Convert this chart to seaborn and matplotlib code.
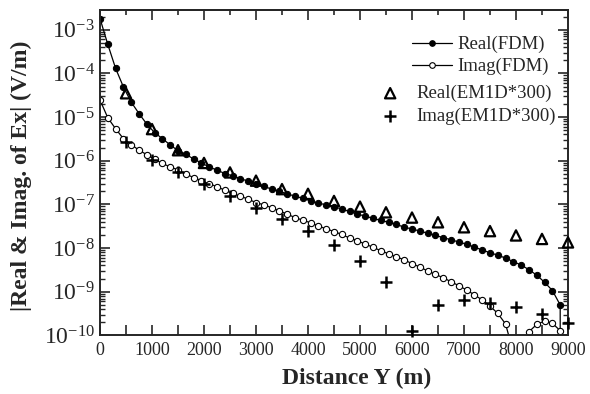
import numpy as np
import matplotlib
matplotlib.use("Agg")
import matplotlib.pyplot as plt
import seaborn as sns
from matplotlib.ticker import LogLocator, MultipleLocator, NullFormatter

# ------------------------------
# data
# ------------------------------
x_fdm = np.arange(0, 9001, 150)

real_fdm = [1.8e-3, 4.6e-4, 1.3e-4, 4.9e-5, 2.2e-5, 1.2e-5, 6.9e-6, 4.4e-6,
            3.2e-6, 2.3e-6, 1.7e-6, 1.4e-6, 1.1e-6, 8.9e-7, 7.2e-7, 6.1e-7,
            5.1e-7, 4.5e-7, 3.9e-7, 3.4e-7, 3.0e-7, 2.6e-7, 2.24e-7, 2.0e-7,
            1.75e-7, 1.54e-7, 1.38e-7, 1.2e-7, 1.07e-7, 9.8e-8, 8.9e-8, 7.8e-8,
            6.9e-8, 6.0e-8, 5.4e-8, 4.8e-8, 4.3e-8, 3.9e-8, 3.5e-8, 3.0e-8,
            2.75e-8, 2.45e-8, 2.2e-8, 1.95e-8, 1.74e-8, 1.55e-8, 1.38e-8, 1.23e-8,
            1.05e-8, 9.1e-9, 7.8e-9, 6.9e-9, 5.9e-9, 4.9e-9, 4.1e-9, 3.2e-9,
            2.4e-9, 1.65e-9, 1.07e-9, 5.0e-10, 0.0]

imag_fdm = [2.45e-5, 9.6e-6, 5.4e-6, 3.2e-6, 2.35e-6, 1.74e-6, 1.38e-6, 1.07e-6,
            8.7e-7, 7.2e-7, 6.2e-7, 5.0e-7, 4.1e-7, 3.5e-7, 2.95e-7, 2.57e-7,
            2.1e-7, 1.78e-7, 1.54e-7, 1.32e-7, 1.1e-7, 9.8e-8, 8.4e-8, 7.1e-8,
            6.0e-8, 5.0e-8, 4.35e-8, 3.8e-8, 3.2e-8, 2.76e-8, 2.4e-8, 2.05e-8,
            1.7e-8, 1.48e-8, 1.23e-8, 1.05e-8, 8.7e-9, 7.4e-9, 6.3e-9, 5.4e-9,
            4.4e-9, 3.7e-9, 3.0e-9, 2.5e-9, 2.1e-9, 1.7e-9, 1.38e-9, 1.1e-9,
            8.5e-10, 6.5e-10, 4.7e-10, 3.2e-10, 1.83e-10, 4e-11, 3e-11, 1.22e-10,
            1.8e-10, 2.15e-10, 1.9e-10, 1.29e-10, 0.0]

x_em1d = np.arange(500, 9001, 500)
real_em1d = [3.5e-5, 5.3e-6, 1.74e-6, 8.9e-7, 5.4e-7, 3.5e-7, 2.24e-7, 1.75e-7,
             1.2e-7, 8.9e-8, 6.6e-8, 5.0e-8, 3.9e-8, 3.0e-8, 2.45e-8, 1.95e-8,
             1.62e-8, 1.35e-8]
imag_em1d = [2.7e-6, 1.05e-6, 5.4e-7, 3.0e-7, 1.6e-7, 8.5e-8, 4.7e-8, 2.5e-8,
             1.2e-8, 5.1e-9, 1.7e-9, 1.29e-10, 5.0e-10, 6.5e-10, 5.6e-10, 4.4e-10,
             3.1e-10, 1.96e-10]

# ------------------------------
# style
# ------------------------------
sns.set_style("ticks")
plt.rcParams["font.family"] = ["Liberation Serif", "DejaVu Serif"]
plt.rcParams["mathtext.fontset"] = "custom"
plt.rcParams["mathtext.rm"] = "Liberation Serif"
plt.rcParams["axes.linewidth"] = 1.4

fig = plt.figure(figsize=(5.9, 3.94), dpi=100)
ax = fig.add_axes([0.1695, 0.1485, 0.7932, 0.8261])
ax.set_yscale("log")

sns.lineplot(x=x_fdm, y=real_fdm, ax=ax, color="black", lw=0.9,
             marker="o", markersize=4.5, markerfacecolor="black",
             markeredgecolor="black", label="Real(FDM)")
sns.lineplot(x=x_fdm, y=imag_fdm, ax=ax, color="black", lw=0.9,
             marker="o", markersize=4.5, markerfacecolor="white",
             markeredgecolor="black", markeredgewidth=0.8, label="Imag(FDM)")
sns.scatterplot(x=x_em1d, y=real_em1d, ax=ax, marker="^", s=55,
                facecolor="none", edgecolor="black", linewidth=1.6,
                clip_on=False, zorder=4, label="Real(EM1D*300)")
sns.scatterplot(x=x_em1d, y=imag_em1d, ax=ax, marker="+", s=70,
                color="black", linewidth=1.8, clip_on=False, zorder=4,
                label="Imag(EM1D*300)")

ax.set_xlim(0, 9000)
ax.set_ylim(1e-10, 10 ** -2.55)

ax.xaxis.set_major_locator(MultipleLocator(1000))
ax.xaxis.set_minor_locator(MultipleLocator(500))
ax.yaxis.set_major_locator(LogLocator(base=10, numticks=20))
ax.yaxis.set_minor_locator(LogLocator(base=10, subs=np.arange(2, 10), numticks=20))
ax.yaxis.set_minor_formatter(NullFormatter())

ax.tick_params(axis="x", which="both", direction="in", length=7, width=1.2,
               labelsize=13, pad=4.5, top=False)
ax.tick_params(axis="y", which="major", direction="in", length=7, width=1.2,
               labelsize=17, pad=3.5, right=True)
ax.tick_params(axis="y", which="minor", direction="in", length=3.5, width=1.0,
               right=True)

# shorter minor ticks on the top edge
top = ax.secondary_xaxis("top")
top.xaxis.set_major_locator(MultipleLocator(1000))
top.xaxis.set_minor_locator(MultipleLocator(500))
top.tick_params(axis="x", which="major", direction="in", length=7, width=1.2,
                labeltop=False)
top.tick_params(axis="x", which="minor", direction="in", length=3.5, width=1.2)

ax.set_xlabel("Distance Y (m)", fontsize=17, fontweight="bold")
ax.set_ylabel("|Real & Imag. of Ex| (V/m)", fontsize=17, fontweight="bold")
ax.xaxis.set_label_coords(0.548, -0.10)
ax.yaxis.set_label_coords(-0.145, 0.49)

# two stacked legends, like the original layout
handles, labels = ax.get_legend_handles_labels()
ax.get_legend().remove()
leg1 = ax.legend(handles[:2], labels[:2], loc="upper left",
                 bbox_to_anchor=(0.666, 0.92), frameon=False, fontsize=13.5,
                 handlelength=2.15, handletextpad=0.3, labelspacing=0.25,
                 borderpad=0, borderaxespad=0, markerscale=0.9)
ax.add_artist(leg1)
ax.legend(handles[2:], labels[2:], loc="upper left",
          bbox_to_anchor=(0.60, 0.77), frameon=False, fontsize=13.5,
          handlelength=1.0, handletextpad=0.9, labelspacing=0.3,
          borderpad=0, borderaxespad=0)

fig.savefig("out.png", dpi=100)
